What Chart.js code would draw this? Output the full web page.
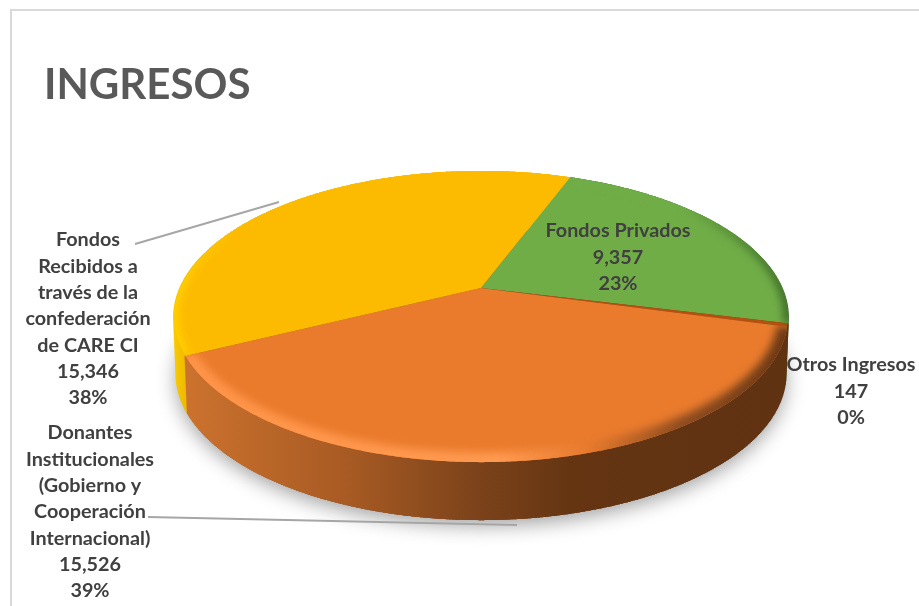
<!DOCTYPE html>
<html>
<head>
<meta charset="utf-8">
<style>
html,body{margin:0;padding:0;background:#fff;}
#frame{position:absolute;left:10px;top:9px;width:909px;height:597px;border:solid #d9d9d9;border-width:2px 0 0 2px;box-sizing:border-box;}
canvas{position:absolute;left:0;top:0;}
</style>
<script src="https://cdn.jsdelivr.net/npm/chart.js@4"></script>
</head>
<body>
<div id="frame"></div>
<canvas id="myChart" width="919" height="606"></canvas>
<script>
// data, in slice order starting at the top
const categories=[
    ["Fondos Privados"],
    ["Otros Ingresos"],
    ["Donantes","Institucionales","(Gobierno y","Cooperación","Internacional)"],
    ["Fondos","Recibidos a","través de la","confederación","de CARE CI"]
];
const values=[9357,147,15526,15346];
const percents=["23%","0%","39%","38%"];
const topColors=["#70ad47","#b5500f","#ea7b2d","#fdbb00"];
const labelCenters=[[618,231],[851,365],[90,433],[88,240]];
const leaderLines=[null,null,[[148,517],[517,525]],[[135,244],[279,202]]];

// perspective of the tilted disc: apex on screen, half axes and tilt
const apexX=481, apexY=288, axisX=301, axisY=140, tilt=0.196;
const depth=58;

function project(angle,dy,sx){
    const u=Math.cos(angle), v=Math.sin(angle), w=1-tilt*v;
    return [apexX+(sx||1)*axisX*u/w, apexY+(dy||0)+axisY*v/w];
}
function rimPoints(a0,a1,dy,sx){
    const pts=[], n=Math.max(2,Math.ceil((a1-a0)/0.008));
    for(let i=0;i<=n;i++){ pts.push(project(a0+(a1-a0)*i/n,dy,sx)); }
    return pts;
}
function trace(c,pts){
    pts.forEach((p,i)=> i===0 ? c.moveTo(p[0],p[1]) : c.lineTo(p[0],p[1]));
}
function hGradient(c,stops){
    const g=c.createLinearGradient(170,0,790,0);
    stops.forEach(s=>g.addColorStop((s[0]-170)/620,s[1]));
    return g;
}

const wallStops=[
    [[170,"#3f6b27"],[790,"#3f6b27"]],
    [[170,"#5f3212"],[790,"#5f3212"]],
    [[185,"#cc722e"],[350,"#a75a23"],[480,"#7b421a"],[570,"#653512"],[790,"#5f3212"]],
    [[170,"#ffd000"],[190,"#e8b400"],[790,"#e8b400"]]
];
const glowStops=[
    [[170,"#70ad47"],[680,"#70ad47"],[790,"#345e22"]],
    [[170,"#b5500f"],[790,"#7a3a10"]],
    [[170,"#ff9448"],[500,"#ff9a50"],[590,"#e5792d"],[680,"#8e4c1f"],[790,"#6a3814"]],
    [[170,"#ffd800"],[235,"#fdbb00"],[790,"#fdbb00"]]
];

// draws the arcs Chart.js laid out, through the perspective above
const disc3d={
    id:"disc3d",
    beforeDatasetsDraw(chart){
        const c=chart.ctx, arcs=chart.getDatasetMeta(0).data;
        c.save();
        // soft shadow under the disc
        c.save();
        c.shadowColor="rgba(0,0,0,0.38)";
        c.shadowBlur=20;
        c.shadowOffsetY=5;
        c.fillStyle="#7b421a";
        c.beginPath();
        trace(c,rimPoints(0,Math.PI*2,depth,0.992));
        c.closePath();
        c.fill();
        c.restore();
        // side walls, back to front, swept from the top rim to the low rim
        [0,1,3,2].forEach(i=>{
            const a=arcs[i];
            const top=rimPoints(a.startAngle,a.endAngle);
            const low=rimPoints(a.startAngle,a.endAngle,depth,0.992);
            const paint=hGradient(c,wallStops[i]);
            c.fillStyle=paint;
            c.strokeStyle=paint;
            c.lineWidth=2;
            c.beginPath();
            trace(c,top.concat(low.slice().reverse()));
            c.closePath();
            c.fill();
            c.beginPath();
            top.forEach((p,j)=>{ c.moveTo(p[0],p[1]); c.lineTo(low[j][0],low[j][1]); });
            c.stroke();
        });
        // top faces with the bevel glow along the rim
        arcs.forEach((a,i)=>{
            const rim=rimPoints(a.startAngle,a.endAngle);
            const path=new Path2D();
            path.moveTo(apexX,apexY);
            rim.forEach(p=>path.lineTo(p[0],p[1]));
            path.closePath();
            c.fillStyle=topColors[i];
            c.fill(path);
            c.save();
            c.clip(path);
            c.filter="blur(4px)";
            c.strokeStyle=hGradient(c,glowStops[i]);
            c.lineWidth=i===2?20:8;
            c.beginPath();
            trace(c,rim);
            c.stroke();
            c.restore();
        });
        c.restore();
        return false;
    },
    // afterDatasetsDraw is skipped once the default arcs are cancelled
    afterDraw(chart){
        const c=chart.ctx;
        c.save();
        c.strokeStyle="#a6a6a6";
        c.lineWidth=2;
        leaderLines.forEach(l=>{
            if(!l)return;
            c.beginPath();
            trace(c,l);
            c.stroke();
        });
        c.font="bold 19.8px Lato";
        c.fillStyle="#404040";
        c.textAlign="center";
        c.textBaseline="middle";
        categories.forEach((lines,i)=>{
            const all=lines.concat([values[i].toLocaleString("en-US"),percents[i]]);
            all.forEach((t,j)=>c.fillText(t,labelCenters[i][0],labelCenters[i][1]+j*26.3));
        });
        c.restore();
    }
};

const myChart=new Chart(document.getElementById("myChart").getContext("2d"),{
    type:"pie",
    data:{
        labels:categories.map(l=>l.join(" ")),
        datasets:[{data:values,backgroundColor:topColors,borderWidth:0}]
    },
    options:{
        responsive:false,
        devicePixelRatio:1,
        animation:false,
        rotation:20.5,
        layout:{padding:{left:44,top:60}},
        plugins:{
            legend:{display:false},
            tooltip:{enabled:false},
            title:{
                display:true,
                text:"INGRESOS",
                align:"start",
                color:"#595959",
                font:{family:"Lato",size:42,weight:"bold"},
                padding:0
            }
        }
    },
    plugins:[disc3d]
});
</script>
</body>
</html>
